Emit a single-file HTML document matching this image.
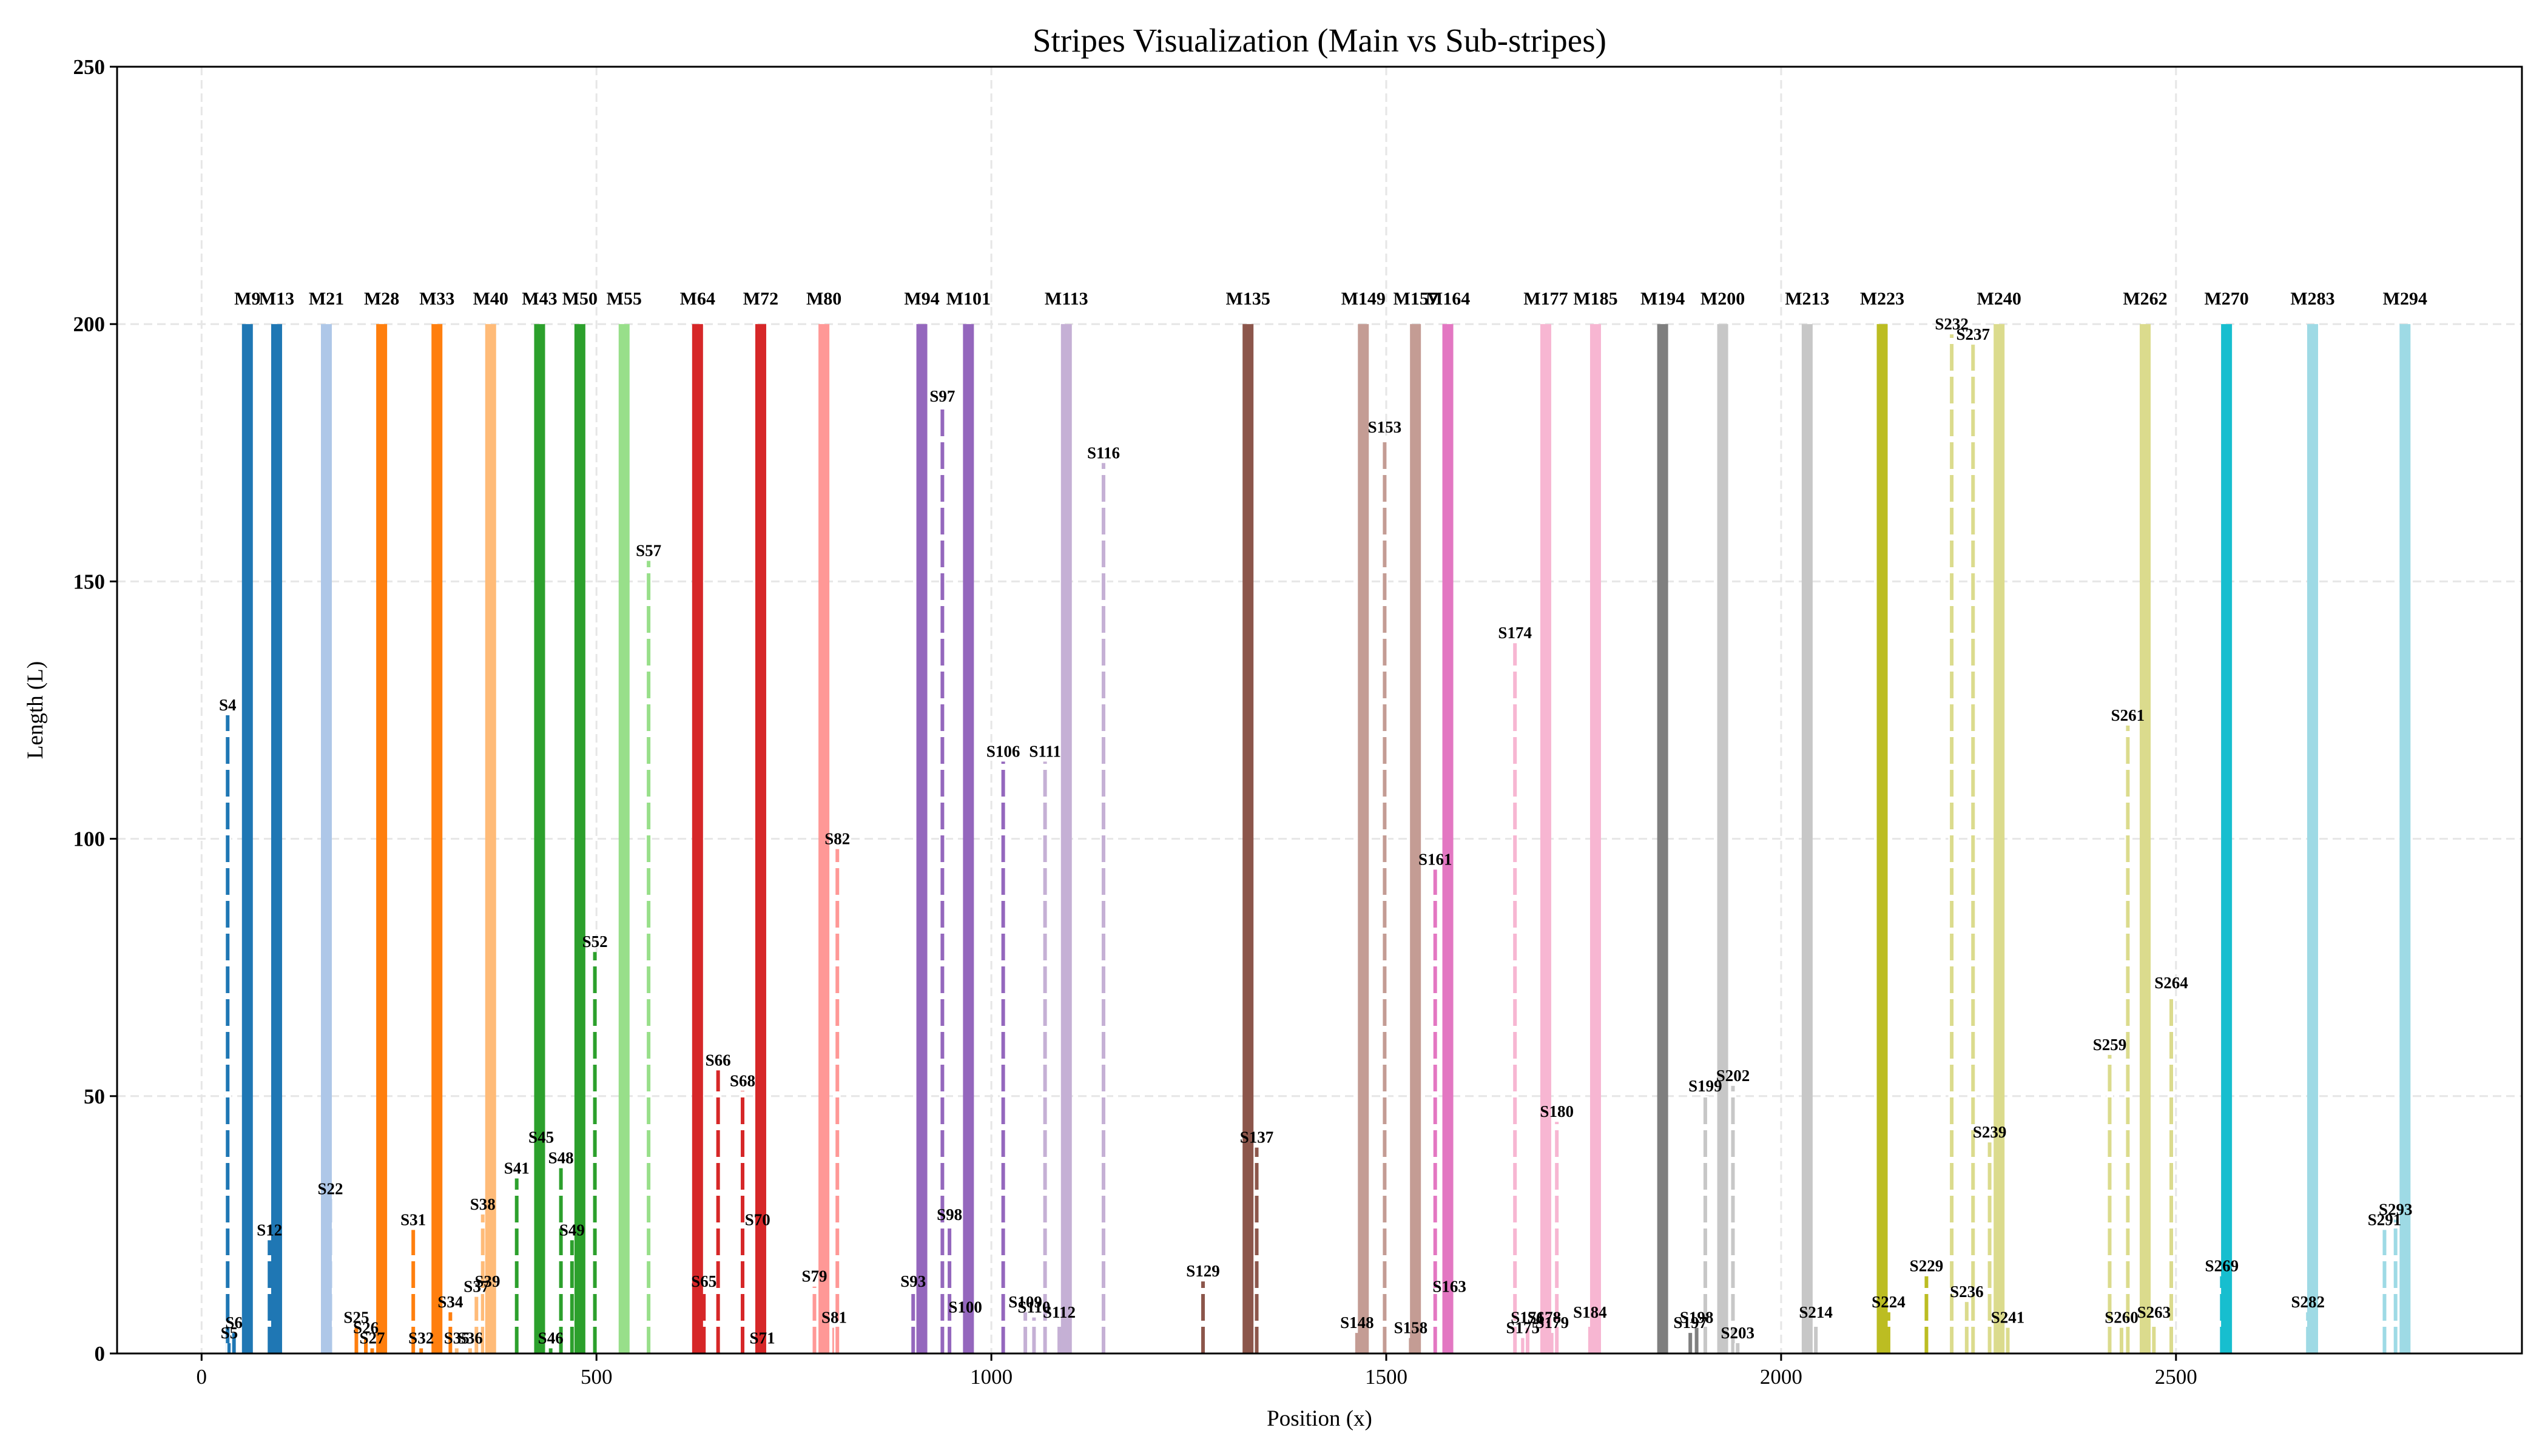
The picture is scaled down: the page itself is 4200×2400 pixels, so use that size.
<!DOCTYPE html>
<html><head><meta charset="utf-8"><style>
html,body{margin:0;padding:0;background:#fff;}
svg{display:block;font-family:"Liberation Serif",serif;}
</style></head><body>
<svg id="chart" width="4200" height="2400" viewBox="0 0 4200 2400">
<rect x="0" y="0" width="4200" height="2400" fill="#fff"/>
<g id="grid"></g><g id="marks"></g><g id="labels"></g><g id="axes"></g>
</svg>
<script>
const mainNames=["M9","M13","M21","M28","M33","M40","M43","M50","M55","M64","M72","M80","M94","M101","M113","M135","M149","M157","M164","M177","M185","M194","M200","M213","M223","M240","M262","M270","M283","M294"];
const mainX=[58,95,158,228,298,366,428,479,535,628,708,788,912,971,1095,1325,1471,1537,1578,1702,1765,1850,1926,2033,2128,2276,2461,2564,2673,2790];
const mainLen=[200,200,200,200,200,200,200,200,200,200,200,200,200,200,200,200,200,200,200,200,200,200,200,200,200,200,200,200,200,200];
const mainColors=["#1f77b4","#1f77b4","#aec7e8","#ff7f0e","#ff7f0e","#ffbb78","#2ca02c","#2ca02c","#98df8a","#d62728","#d62728","#ff9896","#9467bd","#9467bd","#c5b0d5","#8c564b","#c49c94","#c49c94","#e377c2","#f7b6d2","#f7b6d2","#7f7f7f","#c7c7c7","#c7c7c7","#bcbd22","#dbdb8d","#dbdb8d","#17becf","#9edae5","#9edae5"];
const subNames=["S4","S5","S6","S12","S22","S25","S26","S27","S31","S32","S34","S35","S36","S37","S38","S39","S41","S45","S46","S48","S49","S52","S57","S65","S66","S68","S70","S71","S79","S81","S82","S93","S97","S98","S100","S106","S109","S110","S111","S112","S116","S129","S137","S148","S153","S158","S161","S163","S174","S175","S176","S178","S179","S180","S184","S197","S198","S199","S202","S203","S214","S224","S229","S232","S236","S237","S239","S241","S259","S260","S261","S263","S264","S269","S282","S291","S293"];
const subX=[33,35,41,86,163,196,208,216,268,278,315,323,340,348,356,362,399,430,442,455,469,498,566,636,654,685,704,710,776,801,805,901,938,947,967,1015,1043,1054,1068,1086,1142,1268,1336,1463,1498,1531,1562,1580,1663,1673,1679,1700,1710,1716,1758,1885,1893,1904,1939,1945,2044,2136,2184,2216,2235,2243,2264,2287,2416,2431,2439,2472,2494,2558,2667,2764,2778];
const subLen=[124,2,4,22,30,5,3,1,24,1,8,1,1,11,27,12,34,40,1,36,22,78,154,12,55,51,24,1,13,5,98,12,184,25,7,115,8,7,115,6,173,14,40,4,178,3,94,11,138,3,5,5,4,45,6,4,5,50,52,2,6,8,15,198,10,196,41,5,58,5,122,6,70,15,8,24,26];
const subColors=["#1f77b4","#1f77b4","#1f77b4","#1f77b4","#aec7e8","#ff7f0e","#ff7f0e","#ff7f0e","#ff7f0e","#ff7f0e","#ff7f0e","#ffbb78","#ffbb78","#ffbb78","#ffbb78","#ffbb78","#2ca02c","#2ca02c","#2ca02c","#2ca02c","#2ca02c","#2ca02c","#98df8a","#d62728","#d62728","#d62728","#d62728","#d62728","#ff9896","#ff9896","#ff9896","#9467bd","#9467bd","#9467bd","#9467bd","#9467bd","#c5b0d5","#c5b0d5","#c5b0d5","#c5b0d5","#c5b0d5","#8c564b","#8c564b","#c49c94","#c49c94","#c49c94","#e377c2","#e377c2","#f7b6d2","#f7b6d2","#f7b6d2","#f7b6d2","#f7b6d2","#f7b6d2","#f7b6d2","#7f7f7f","#7f7f7f","#c7c7c7","#c7c7c7","#c7c7c7","#c7c7c7","#bcbd22","#bcbd22","#dbdb8d","#dbdb8d","#dbdb8d","#dbdb8d","#dbdb8d","#dbdb8d","#dbdb8d","#dbdb8d","#dbdb8d","#dbdb8d","#17becf","#9edae5","#9edae5","#9edae5"];
const xTicks=[0,500,1000,1500,2000,2500];
const yTicks=[0,50,100,150,200,250];

const L=193,R=4157,T=110,B=2231,XMIN=-107,XMAX=2938,YMIN=0,YMAX=250;
const sx=v=>L+(v-XMIN)/(XMAX-XMIN)*(R-L);
const sy=v=>B-(v-YMIN)/(YMAX-YMIN)*(B-T);
const NS="http://www.w3.org/2000/svg";
function mk(tag,attrs,parent){const e=document.createElementNS(NS,tag);for(const k in attrs)e.setAttribute(k,attrs[k]);parent.appendChild(e);return e;}
const grid=document.getElementById('grid'),marks=document.getElementById('marks'),labels=document.getElementById('labels'),axes=document.getElementById('axes');

xTicks.forEach(t=>{const g=mk('line',{x1:sx(t),x2:sx(t),y1:T,y2:B,stroke:'#e6e6e6','stroke-width':3,'stroke-dasharray':'14,8'},grid);

});
yTicks.forEach(t=>{const g=mk('line',{x1:L,x2:R,y1:sy(t),y2:sy(t),stroke:'#e6e6e6','stroke-width':3,'stroke-dasharray':'14,8'},grid);

});

subNames.forEach((n,i)=>{
  const x=sx(subX[i]),y0=sy(0),y1=sy(subLen[i]);
  const g=mk('g',{},marks);
  
  
  mk('line',{x1:x,x2:x,y1:y0,y2:y1,stroke:'#fff','stroke-width':11},g);
  mk('line',{x1:x,x2:x,y1:y0,y2:y1,stroke:subColors[i],'stroke-width':6,'stroke-dasharray':'44,10'},g);
  const t=mk('text',{x:x,y:y1-8,'text-anchor':'middle','font-size':27,'font-weight':'bold',fill:'#000'},labels);
  t.textContent=n;
  
  
});
mainNames.forEach((n,i)=>{
  const x=sx(mainX[i]);
  const r=mk('rect',{x:x-9,y:sy(mainLen[i]),width:18,height:sy(0)-sy(mainLen[i]),fill:mainColors[i]},marks);
  
  
  const t=mk('text',{x:x,y:sy(mainLen[i]+5)+10,'text-anchor':'middle','font-size':30,'font-weight':'bold',fill:'#000'},labels);
  t.textContent=n;
  
  
});

const frame=mk('rect',{x:L,y:T,width:R-L,height:B-T,fill:'none',stroke:'#000','stroke-width':3},axes);


xTicks.forEach(t=>{const x=sx(t);mk('line',{x1:x,x2:x,y1:B,y2:B+12,stroke:'#000','stroke-width':3},axes);
const lb=mk('text',{x:x,y:B+50,'text-anchor':'middle','font-size':35,fill:'#000'},axes);lb.textContent=t;

});
yTicks.forEach(t=>{const y=sy(t);mk('line',{x1:L-12,x2:L,y1:y,y2:y,stroke:'#000','stroke-width':3},axes);
const lb=mk('text',{x:L-20,y:y+12,'text-anchor':'end','font-size':35,'font-weight':'bold',fill:'#000'},axes);lb.textContent=t;

});
const title=mk('text',{x:(L+R)/2,y:85,'text-anchor':'middle','font-size':55,fill:'#000'},axes);title.textContent='Stripes Visualization (Main vs Sub-stripes)';


const xl=mk('text',{x:(L+R)/2,y:2350,'text-anchor':'middle','font-size':37,fill:'#000'},axes);xl.textContent='Position (x)';


const yl=mk('text',{x:0,y:0,'text-anchor':'middle','font-size':37,fill:'#000',transform:'translate(70,'+((T+B)/2)+') rotate(-90)'},axes);yl.textContent='Length (L)';


</script>
</body></html>
